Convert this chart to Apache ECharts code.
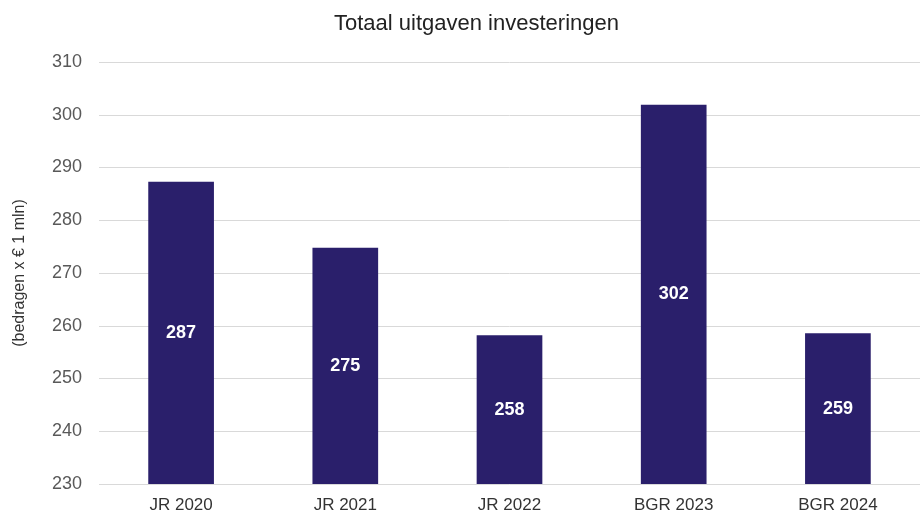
<!DOCTYPE html>
<html><head><meta charset="utf-8">
<script src="https://cdn.jsdelivr.net/npm/echarts@6/dist/echarts.min.js"></script>
<style>html,body{margin:0;padding:0;background:#fff}#c{width:920px;height:515px}</style>
</head><body><div id="c"></div>
<script>
const categories = ["JR 2020", "JR 2021", "JR 2022", "BGR 2023", "BGR 2024"];
const values = [287.3, 274.8, 258.2, 301.9, 258.6];
const labels = ["287", "275", "258", "302", "259"];
const title = "Totaal uitgaven investeringen";
const yName = "(bedragen x € 1 mln)";

const chart = echarts.init(document.getElementById('c'));
chart.setOption({
  animation: false,
  backgroundColor: '#fff',
  title: {text: title, left: 329, top: 8, textStyle: {fontFamily: 'Liberation Sans', fontSize: 22, fontWeight: 'normal', color: '#222'}},
  grid: {left: 99, right: -7, top: 62, bottom: 31, containLabel: false},
  xAxis: {type: 'category', data: categories,
    axisLine: {show: false}, axisTick: {show: false},
    axisLabel: {fontFamily: 'Liberation Sans', fontSize: 17, color: '#333', margin: 13}},
  yAxis: {type: 'value', min: 230, max: 310, interval: 10,
    name: yName, nameLocation: 'middle', nameGap: 71, nameRotate: 90,
    nameTextStyle: {fontFamily: 'Liberation Sans', fontSize: 16, color: '#333'},
    axisLabel: {fontFamily: 'Liberation Sans', fontSize: 18, color: '#595959', margin: 17},
    splitLine: {lineStyle: {color: '#d9d9d9', width: 1}},
    axisLine: {show: false}, axisTick: {show: false}},
  series: [{type: 'bar', data: values, barWidth: '40%',
    itemStyle: {color: '#2a1f6b'},
    label: {show: true, position: 'inside', formatter: p => labels[p.dataIndex],
      color: '#fff', fontFamily: 'Liberation Sans', fontSize: 18, fontWeight: 'bold'}}]
});
</script></body></html>
